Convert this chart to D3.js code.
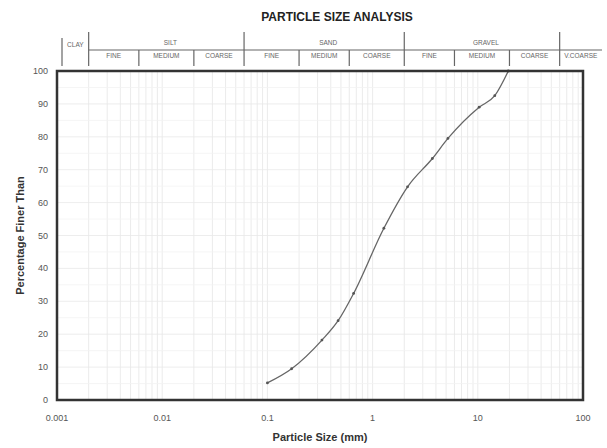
<!DOCTYPE html>
<html>
<head>
<meta charset="utf-8">
<script src="https://cdn.jsdelivr.net/npm/d3@7"></script>
<style>
  body { margin: 0; background: #fff; }
  svg { font-family: "Liberation Sans", Arial, sans-serif; }
</style>
</head>
<body>
<svg width="607" height="448"></svg>
<script>
// grading curve values read from the sheet
var sizes = [0.1, 0.17, 0.33, 0.47, 0.66, 1.28, 2.15, 3.7, 5.2, 10.3, 14.5, 19.5];
var finer = [5.2, 9.5, 18.2, 24.1, 32.4, 52.2, 64.8, 73.4, 79.5, 89, 92.5, 100];

var xTicks = [0.001, 0.01, 0.1, 1, 10, 100];
var xTickLabels = ["0.001", "0.01", "0.1", "1", "10", "100"];
var yTicks = [0, 10, 20, 30, 40, 50, 60, 70, 80, 90, 100];

// soil classification header
var mainBounds = [0.002, 0.06, 2, 60];
var mainNames = [
  {name: "SILT", from: 0.002, to: 0.06},
  {name: "SAND", from: 0.06, to: 2},
  {name: "GRAVEL", from: 2, to: 60}
];
var subBounds = [0.006, 0.02, 0.2, 0.6, 6, 20];
var subNames = ["FINE", "MEDIUM", "COARSE", "FINE", "MEDIUM", "COARSE", "FINE", "MEDIUM", "COARSE"];
var subEdges = [0.002, 0.006, 0.02, 0.06, 0.2, 0.6, 2, 6, 20, 60];

var svg = d3.select("svg"),
  width = +svg.attr("width"),
  height = +svg.attr("height");

var margin = {left: 57, right: 24, top: 71, bottom: 48};

var x = d3.scaleLog()
  .domain([0.001, 100])
  .range([margin.left, width - margin.right]);
var y = d3.scaleLinear()
  .domain([0, 100])
  .range([height - margin.bottom, margin.top]);

// 网格
var minor = [];
for (var e = -3; e < 2; e++) {
  for (var m = 1; m < 10; m++) minor.push(m * Math.pow(10, e));
}
svg.append("g")
  .selectAll("line")
  .data(minor)
  .enter().append("line")
  .attr("x1", function (d) { return x(d); })
  .attr("x2", function (d) { return x(d); })
  .attr("y1", y(100))
  .attr("y2", y(0))
  .style("stroke", "#e6e6e6")
  .style("stroke-width", 0.8);

svg.append("g")
  .selectAll("line")
  .data(d3.range(5, 100, 5))
  .enter().append("line")
  .attr("x1", x(0.001))
  .attr("x2", x(100))
  .attr("y1", function (d) { return y(d); })
  .attr("y2", function (d) { return y(d); })
  .style("stroke", function (d) { return d % 10 === 0 ? "#e8e8e8" : "#f2f2f2"; })
  .style("stroke-width", 0.8);

// 曲线
var pts = sizes.map(function (s, i) { return [s, finer[i]]; });
svg.append("path")
  .datum(pts)
  .attr("fill", "none")
  .attr("stroke", "#666")
  .attr("stroke-width", 1.3)
  .attr("d", d3.line()
    .x(function (d) { return x(d[0]); })
    .y(function (d) { return y(d[1]); })
    .curve(d3.curveMonotoneX));

svg.append("g")
  .selectAll("circle")
  .data(pts)
  .enter().append("circle")
  .attr("cx", function (d) { return x(d[0]); })
  .attr("cy", function (d) { return y(d[1]); })
  .attr("r", 1.4)
  .attr("fill", "#555");

// 边框
svg.append("rect")
  .attr("x", x(0.001))
  .attr("y", y(100))
  .attr("width", x(100) - x(0.001))
  .attr("height", y(0) - y(100))
  .attr("fill", "none")
  .attr("stroke", "#333")
  .attr("stroke-width", 2.5);

// 坐标轴文字
svg.append("g")
  .selectAll("text")
  .data(yTicks)
  .enter().append("text")
  .attr("x", 48)
  .attr("y", function (d) { return y(d) + 3; })
  .attr("text-anchor", "end")
  .style("font-size", "9px")
  .style("fill", "#555")
  .text(function (d) { return d; });

svg.append("g")
  .selectAll("text")
  .data(xTicks)
  .enter().append("text")
  .attr("x", function (d) { return x(d); })
  .attr("y", y(0) + 21)
  .attr("text-anchor", "middle")
  .style("font-size", "9px")
  .style("fill", "#555")
  .text(function (d, i) { return xTickLabels[i]; });

svg.append("text")
  .attr("x", (x(0.001) + x(100)) / 2)
  .attr("y", 441)
  .attr("text-anchor", "middle")
  .style("font-size", "11px")
  .style("font-weight", "bold")
  .style("fill", "#333")
  .text("Particle Size (mm)");

svg.append("text")
  .attr("transform", "translate(24," + ((y(0) + y(100)) / 2) + ") rotate(-90)")
  .attr("text-anchor", "middle")
  .style("font-size", "11px")
  .style("font-weight", "bold")
  .style("fill", "#333")
  .text("Percentage Finer Than");

svg.append("text")
  .attr("x", 337)
  .attr("y", 21)
  .attr("text-anchor", "middle")
  .style("font-size", "12px")
  .style("font-weight", "bold")
  .style("fill", "#222")
  .text("PARTICLE SIZE ANALYSIS");

// 分类表头
var head = svg.append("g").style("stroke", "#666").style("stroke-width", 1.2);
var rowY = 50, headBottom = 66;

head.append("line")
  .attr("x1", x(0.002)).attr("x2", 602)
  .attr("y1", rowY).attr("y2", rowY);

head.append("line")
  .attr("x1", 62).attr("x2", 62)
  .attr("y1", 38).attr("y2", headBottom);

head.selectAll(".main")
  .data(mainBounds)
  .enter().append("line")
  .attr("x1", function (d) { return x(d); })
  .attr("x2", function (d) { return x(d); })
  .attr("y1", 32)
  .attr("y2", headBottom);

head.selectAll(".sub")
  .data(subBounds)
  .enter().append("line")
  .attr("x1", function (d) { return x(d); })
  .attr("x2", function (d) { return x(d); })
  .attr("y1", rowY)
  .attr("y2", headBottom);

var headText = svg.append("g")
  .style("font-size", "6.5px")
  .style("fill", "#666")
  .attr("text-anchor", "middle");

headText.append("text")
  .attr("x", (62 + x(0.002)) / 2)
  .attr("y", 47)
  .text("CLAY");

headText.selectAll(".mn")
  .data(mainNames)
  .enter().append("text")
  .attr("x", function (d) { return x(Math.sqrt(d.from * d.to)) + 4; })
  .attr("y", 45)
  .text(function (d) { return d.name; });

headText.selectAll(".sn")
  .data(subNames)
  .enter().append("text")
  .attr("x", function (d, i) { return x(Math.sqrt(subEdges[i] * subEdges[i + 1])); })
  .attr("y", 58)
  .text(function (d) { return d; });

headText.append("text")
  .attr("x", (x(60) + 602) / 2)
  .attr("y", 58)
  .text("V.COARSE");
</script>
</body>
</html>
